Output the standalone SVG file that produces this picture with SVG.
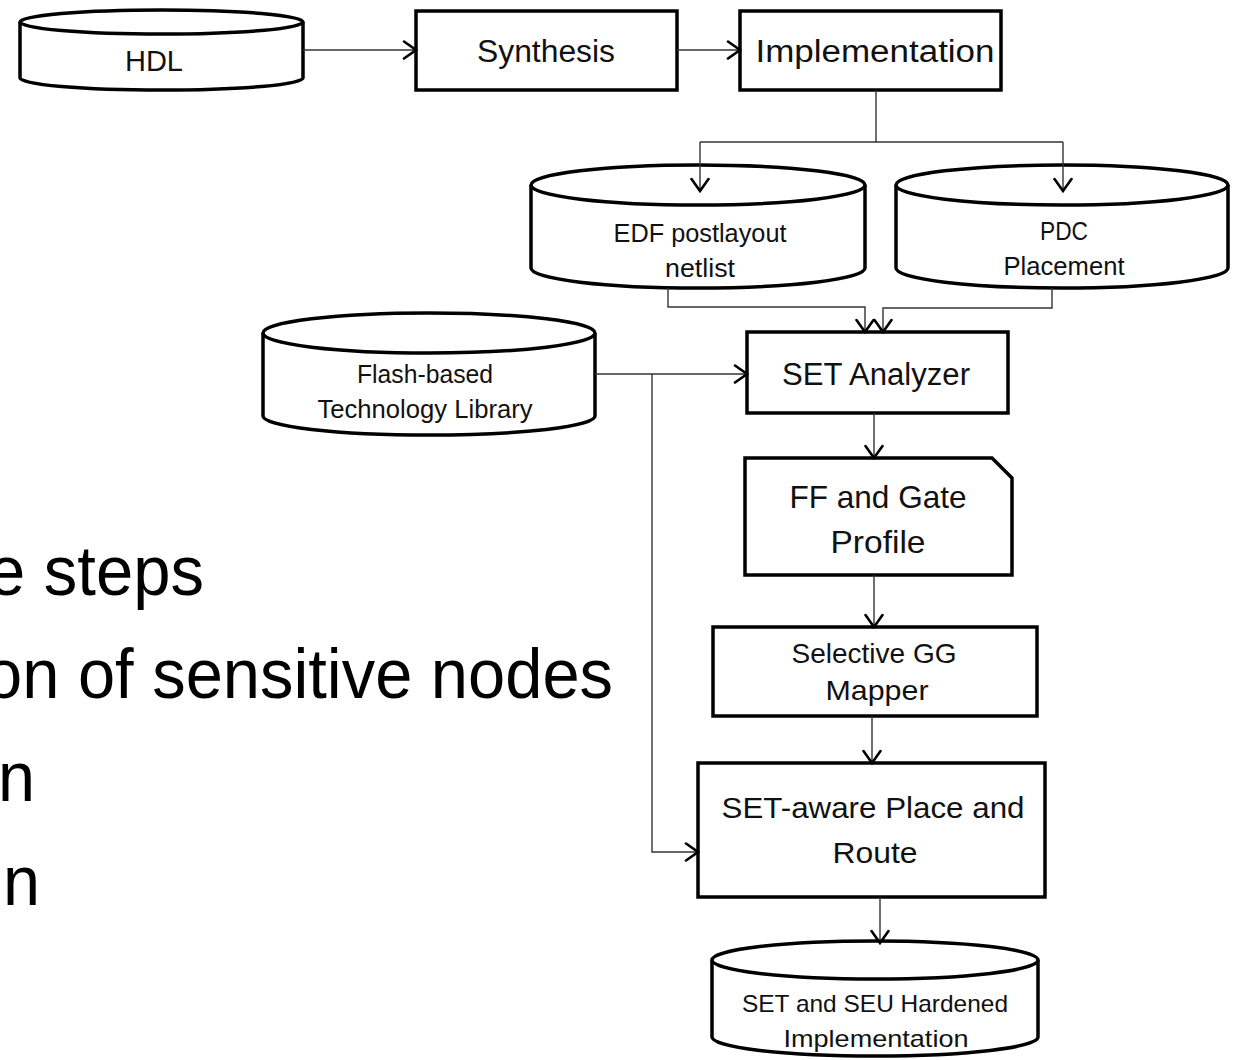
<svg xmlns="http://www.w3.org/2000/svg" width="1235" height="1060" viewBox="0 0 1235 1060">
  <defs>
    <style>
      .box { fill: #fff; stroke: #000; stroke-width: 3.5; stroke-linejoin: miter; }
      .cyl { fill: #fff; stroke: #000; stroke-width: 3.5; }
      .lbl { font-family: "Liberation Sans", Arial, sans-serif; fill: #111; text-anchor: middle; }
      .wire { fill: none; stroke: #333; stroke-width: 1.4; }
      .big { font-family: "Liberation Sans", Arial, sans-serif; font-size: 70px; fill: #000; }
    </style>
    <marker id="arr" markerUnits="userSpaceOnUse" viewBox="-15 -11 17 22" refX="0" refY="0" markerWidth="17" markerHeight="22" orient="auto">
      <path d="M-12,-8.5 L0,0 L-12,8.5" fill="none" stroke="#000" stroke-width="2.6" stroke-linecap="round"/>
    </marker>
  </defs>
  <rect width="1235" height="1060" fill="#fff"/>

  <!-- slide bullet text, cut at the left edge -->
  <g id="bullets">
    <text class="big" x="-12" y="595" textLength="216" lengthAdjust="spacingAndGlyphs">e steps</text>
    <text class="big" x="-15" y="698" textLength="628" lengthAdjust="spacingAndGlyphs">on of sensitive nodes</text>
    <text class="big" x="-2" y="801" textLength="37" lengthAdjust="spacingAndGlyphs">n</text>
    <text class="big" x="3" y="905" textLength="37" lengthAdjust="spacingAndGlyphs">n</text>
  </g>

  <!-- nodes -->
  <g id="hdl">
    <path class="cyl" d="M20,22 V78 A141.5,12 0 0 0 303,78 V22"/>
    <ellipse class="cyl" cx="161.5" cy="22" rx="141.5" ry="12"/>
    <text class="lbl" x="154" y="71" font-size="30" textLength="58" lengthAdjust="spacingAndGlyphs">HDL</text>
  </g>

  <g id="synthesis">
    <rect class="box" x="416" y="11" width="261" height="79"/>
    <text class="lbl" x="546" y="62" font-size="31" textLength="138" lengthAdjust="spacingAndGlyphs">Synthesis</text>
  </g>

  <g id="implementation">
    <rect class="box" x="740" y="11" width="261" height="79"/>
    <text class="lbl" x="875" y="62" font-size="31" textLength="239" lengthAdjust="spacingAndGlyphs">Implementation</text>
  </g>

  <g id="edf-netlist">
    <path class="cyl" d="M531,185 V268 A167,20 0 0 0 865,268 V185"/>
    <ellipse class="cyl" cx="698" cy="185" rx="167" ry="20"/>
    <text class="lbl" x="700" y="242" font-size="25" textLength="173" lengthAdjust="spacingAndGlyphs">EDF postlayout</text>
    <text class="lbl" x="700" y="277" font-size="25" textLength="70" lengthAdjust="spacingAndGlyphs">netlist</text>
  </g>

  <g id="pdc-placement">
    <path class="cyl" d="M896,185 V268 A166,20 0 0 0 1228,268 V185"/>
    <ellipse class="cyl" cx="1062" cy="185" rx="166" ry="20"/>
    <text class="lbl" x="1064" y="240" font-size="25" textLength="48" lengthAdjust="spacingAndGlyphs">PDC</text>
    <text class="lbl" x="1064" y="275" font-size="25" textLength="121" lengthAdjust="spacingAndGlyphs">Placement</text>
  </g>

  <g id="tech-library">
    <path class="cyl" d="M263,333 V416 A166,19 0 0 0 595,416 V333"/>
    <ellipse class="cyl" cx="429" cy="333" rx="166" ry="20"/>
    <text class="lbl" x="425" y="383" font-size="25" textLength="136" lengthAdjust="spacingAndGlyphs">Flash-based</text>
    <text class="lbl" x="425" y="418" font-size="25" textLength="215" lengthAdjust="spacingAndGlyphs">Technology Library</text>
  </g>

  <g id="set-analyzer">
    <rect class="box" x="747" y="332" width="261" height="81"/>
    <text class="lbl" x="876" y="385" font-size="31" textLength="188" lengthAdjust="spacingAndGlyphs">SET Analyzer</text>
  </g>

  <g id="ff-gate-profile">
    <path class="box" d="M745,458 H992 L1012,478 V575 H745 Z"/>
    <text class="lbl" x="878" y="508" font-size="32" textLength="177" lengthAdjust="spacingAndGlyphs">FF and Gate</text>
    <text class="lbl" x="878" y="553" font-size="32" textLength="95" lengthAdjust="spacingAndGlyphs">Profile</text>
  </g>

  <g id="gg-mapper">
    <rect class="box" x="713" y="627" width="324" height="89"/>
    <text class="lbl" x="874" y="663" font-size="28" textLength="165" lengthAdjust="spacingAndGlyphs">Selective GG</text>
    <text class="lbl" x="877" y="700" font-size="28" textLength="103" lengthAdjust="spacingAndGlyphs">Mapper</text>
  </g>

  <g id="place-route">
    <rect class="box" x="698" y="763" width="347" height="134"/>
    <text class="lbl" x="873" y="818" font-size="30" textLength="303" lengthAdjust="spacingAndGlyphs">SET-aware Place and</text>
    <text class="lbl" x="875" y="863" font-size="30" textLength="85" lengthAdjust="spacingAndGlyphs">Route</text>
  </g>

  <g id="hardened-impl">
    <path class="cyl" d="M712,960 V1037 A163,19 0 0 0 1038,1037 V960"/>
    <ellipse class="cyl" cx="875" cy="960" rx="163" ry="19"/>
    <text class="lbl" x="875" y="1012" font-size="24" textLength="266" lengthAdjust="spacingAndGlyphs">SET and SEU Hardened</text>
    <text class="lbl" x="876" y="1047" font-size="24" textLength="185" lengthAdjust="spacingAndGlyphs">Implementation</text>
  </g>

  <!-- connectors -->
  <g id="connectors">
    <path class="wire" d="M303,50 H416" marker-end="url(#arr)"/>
    <path class="wire" d="M677,50 H740" marker-end="url(#arr)"/>
    <path class="wire" d="M876,90 V142 M700,142 H1063"/>
    <path class="wire" d="M700,142 V191" marker-end="url(#arr)"/>
    <path class="wire" d="M1063,142 V191" marker-end="url(#arr)"/>
    <path class="wire" d="M668,288 V307 H865 V332" marker-end="url(#arr)"/>
    <path class="wire" d="M1052,288 V308 H883 V332" marker-end="url(#arr)"/>
    <path class="wire" d="M595,374 H747" marker-end="url(#arr)"/>
    <path class="wire" d="M652,374 V852 H698" marker-end="url(#arr)"/>
    <path class="wire" d="M874,413 V458" marker-end="url(#arr)"/>
    <path class="wire" d="M874,575 V627" marker-end="url(#arr)"/>
    <path class="wire" d="M872,716 V763" marker-end="url(#arr)"/>
    <path class="wire" d="M880,897 V943" marker-end="url(#arr)"/>
  </g>
</svg>
